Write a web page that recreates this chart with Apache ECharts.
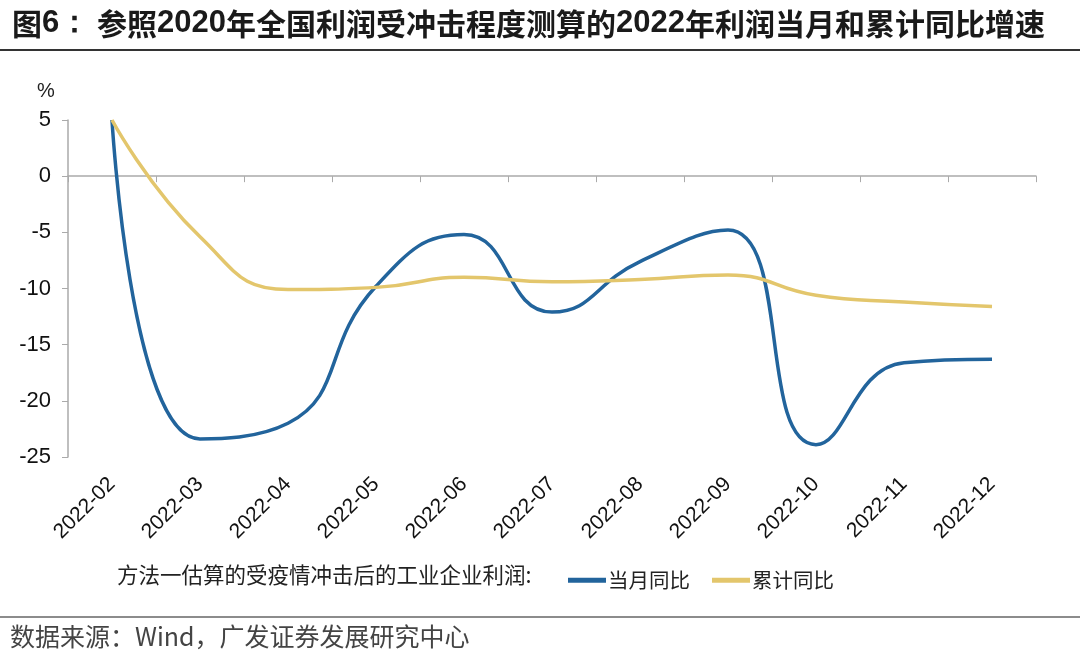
<!DOCTYPE html>
<html>
<head>
<meta charset="utf-8">
<script src="https://cdn.jsdelivr.net/npm/echarts@6/dist/echarts.min.js"></script>
<style>
  html, body { margin: 0; padding: 0; background: #fff; }
  #chart { width: 1080px; height: 664px; }
</style>
</head>
<body>
<div id="chart"></div>
<script>
// 数据
const months = ['2022-02', '2022-03', '2022-04', '2022-05', '2022-06', '2022-07',
                '2022-08', '2022-09', '2022-10', '2022-11', '2022-12'];
const monthYoy = [5, -23.4, -22.0, -9.8, -5.2, -12.1, -7.6, -4.8, -23.9, -16.6, -16.3];
const cumYoy = [5, -5.4, -10.1, -9.9, -9.0, -9.4, -9.2, -8.8, -10.6, -11.2, -11.6];
const yTicks = { min: -25, max: 5, interval: 5 };

const chartDom = document.getElementById('chart');
const myChart = echarts.init(chartDom, null, { renderer: 'canvas' });

const cjk = '"Noto Sans CJK SC", "Liberation Sans", sans-serif';
const latin = '"Liberation Sans", Arial, sans-serif';

const option = {
    backgroundColor: '#fff',
    animation: false,
    grid: { left: 68, right: 44, top: 120, bottom: 207 },
    graphic: [
        {
            type: 'text', left: 12, top: 8,
            style: {
                text: '{c|图}{d|6：}{c| 参照}{d|2020}{c|年全国利润受冲击程度测算的}{d|2022}{c|年利润当月和累计同比增速}',
                rich: {
                    c: { fontFamily: cjk, fontSize: 30, fontWeight: 'bold', fill: '#1a1a1a' },
                    d: { fontFamily: latin, fontSize: 31, fontWeight: 'bold', fill: '#1a1a1a' }
                }
            }
        },
        { type: 'line', shape: { x1: 0, y1: 50, x2: 1080, y2: 50 }, style: { stroke: '#333', lineWidth: 2 } },
        { type: 'line', shape: { x1: 0, y1: 617, x2: 1080, y2: 617 }, style: { stroke: '#666', lineWidth: 1.5 } },
        {
            type: 'text', left: 10, top: 624,
            style: { text: '数据来源：Wind，广发证券发展研究中心', fontFamily: cjk, fontSize: 25, fill: '#444' }
        },
        {
            type: 'text', left: 37, top: 81,
            style: { text: '%', fontFamily: latin, fontSize: 20, fill: '#222' }
        },
        {
            type: 'text', left: 117, top: 564,
            style: { text: '方法一估算的受疫情冲击后的工业企业利润:', fontFamily: cjk, fontSize: 21.5, fill: '#222' }
        }
    ],
    legend: {
        left: 563, top: 565,
        itemWidth: 38, itemHeight: 5, itemGap: 22,
        icon: 'rect',
        textStyle: { fontFamily: cjk, fontSize: 20.5, color: '#222', padding: [0, 0, 0, -3] },
        data: ['当月同比', '累计同比']
    },
    xAxis: [
        {
            type: 'category', data: months,
            axisLine: { onZero: true, lineStyle: { color: '#aaa', width: 1.5 } },
            axisTick: { show: true, length: 6, lineStyle: { color: '#aaa' } },
            axisLabel: { show: false }
        },
        {
            type: 'category', data: months, position: 'bottom',
            axisLine: { show: false, onZero: false },
            axisTick: { show: false },
            axisLabel: {
                rotate: 45, margin: 24, fontFamily: latin, fontSize: 21, color: '#111', interval: 0
            }
        }
    ],
    yAxis: {
        type: 'value', min: yTicks.min, max: yTicks.max, interval: yTicks.interval,
        axisLine: { show: true, lineStyle: { color: '#aaa', width: 1.5 } },
        axisTick: { show: true, length: 6, lineStyle: { color: '#aaa' } },
        splitLine: { show: false },
        axisLabel: { margin: 17, fontFamily: latin, fontSize: 22, color: '#111' }
    },
    series: [
        {
            name: '当月同比', type: 'line', data: monthYoy, smooth: 0.5,
            showSymbol: false, symbol: 'none',
            lineStyle: { color: '#22649c', width: 3.5 },
            itemStyle: { color: '#22649c' }
        },
        {
            name: '累计同比', type: 'line', data: cumYoy, smooth: 0.5,
            showSymbol: false, symbol: 'none',
            lineStyle: { color: '#e3c66c', width: 3.5 },
            itemStyle: { color: '#e3c66c' }
        }
    ]
};
myChart.setOption(option);
new ResizeObserver(() => myChart.resize()).observe(chartDom);
</script>
</body>
</html>
